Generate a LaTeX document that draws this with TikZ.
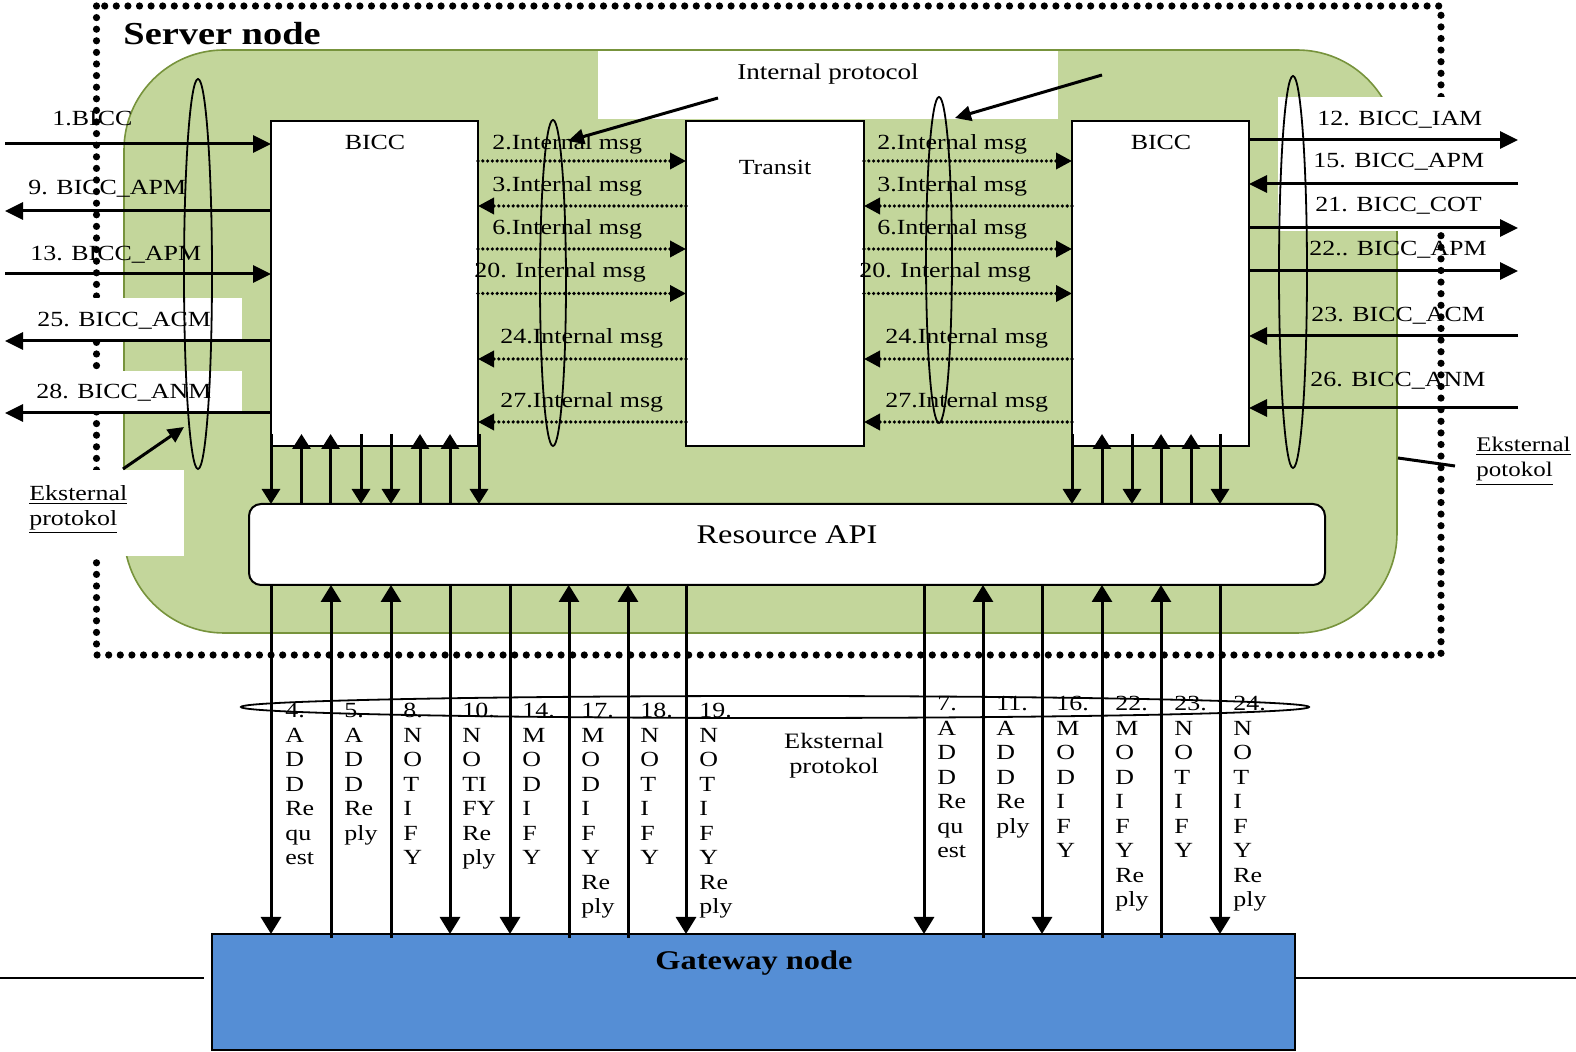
\documentclass[tikz,border=0pt]{standalone}
\usepackage{fontspec}
\setmainfont{Liberation Serif}[FakeStretch=1.2]
\usetikzlibrary{arrows.meta,positioning,calc}
\definecolor{srvgreen}{HTML}{C3D69B}
\definecolor{srvedge}{HTML}{77933C}
\definecolor{gwblue}{HTML}{558ED5}

\begin{document}
\begin{tikzpicture}[x=0.5pt,y=-0.5pt,>={Triangle[length=9pt,width=8.5pt]},
  lbl/.style={font=\fontsize{10.8}{12.25}\selectfont,inner sep=0pt,anchor=base west},
  blk/.style={draw,line width=1pt,fill=white,inner sep=0pt,outer sep=0pt,anchor=north west},
  sig/.style={line width=1.5pt},
  msg/.style={line width=1.8pt,dash pattern=on 0pt off 2.4pt,line cap=round,-{Triangle[length=8pt,width=8pt]}},
  ring/.style={line width=0.9pt}]
\useasboundingbox (0,0) rectangle (1576,1052);

% server node frame and green area
\draw[line width=3.6pt,dash pattern=on 0pt off 5.8pt,line cap=round] (96.5,6) rectangle (1441,655);
\filldraw[fill=srvgreen,draw=srvedge,line width=0.8pt,rounded corners=50pt] (124,50) rectangle (1397,633);
\fill[white] (598,51.5) rectangle (1058,119);
\fill[white] (1278,97) rectangle (1576,231);
\fill[white] (0,298) rectangle (242,340);
\fill[white] (0,371) rectangle (242,412);
\fill[white] (0,470) rectangle (184,556);
\node[font=\fontsize{16}{18}\selectfont\bfseries,inner sep=0pt,anchor=base west] (srv) at (123,45) {Server node};

% blocks
\node[blk,minimum width=103.5pt,minimum height=162.5pt] (bicc1) at (271,121) {};
\node[blk,minimum width=89pt,minimum height=162.5pt] (transit) at (686,121) {};
\node[blk,minimum width=88.5pt,minimum height=162.5pt] (bicc2) at (1072,121) {};
\node[blk,rounded corners=6pt,minimum width=538pt,minimum height=40.5pt] (api) at (249,504) {};
\node[blk,fill=gwblue,minimum width=541.5pt,minimum height=58pt] (gw) at (212,934) {};
\node[lbl,anchor=base] (bicc1t) at (375,150) {BICC};
\node[lbl,anchor=base] (transitt) at (775,175) {Transit};
\node[lbl,anchor=base] (bicc2t) at (1161,150) {BICC};
\node[lbl,anchor=base,font=\fontsize{13.5}{15}\selectfont] (apit) at (787,544) {Resource API};
\node[lbl,anchor=base,font=\fontsize{13.5}{15}\selectfont\bfseries] (gwt) at (754,970) {Gateway node};

\coordinate (lx) at (5,0);
\coordinate (rx) at (1518,0);
\coordinate (gl) at (0,978);
\coordinate (gr) at (1576,978);
\draw[line width=0.8pt] (gl) -- ([xshift=-4pt]gw.west |- gl);
\draw[line width=0.8pt] (gw.east |- gr) -- (gr);

% external BICC signals
\foreach \y in {144,274} \draw[sig,->] (lx |- 0,\y) -- (bicc1.west |- 0,\y);
\foreach \y in {211,341,413} \draw[sig,->] (bicc1.west |- 0,\y) -- (lx |- 0,\y);
\foreach \y in {140,228,271} \draw[sig,->] (bicc2.east |- 0,\y) -- (rx |- 0,\y);
\foreach \y in {184,336,408} \draw[sig,->] (rx |- 0,\y) -- (bicc2.east |- 0,\y);

% internal messages
\foreach \y in {161,249,293.5} {
  \draw[msg] (bicc1.east |- 0,\y) -- (transit.west |- 0,\y);
  \draw[msg] (transit.east |- 0,\y) -- (bicc2.west |- 0,\y);
}
\foreach \y in {206,359,422} {
  \draw[msg] (transit.west |- 0,\y) -- (bicc1.east |- 0,\y);
  \draw[msg] (bicc2.west |- 0,\y) -- (transit.east |- 0,\y);
}

% blocks to resource API
\foreach \x in {271,361,391,479,1072,1132,1220}
  \draw[sig,-{Triangle[length=7.5pt,width=9pt]}] (\x,0 |- bicc1.south) ++(0,-12) -- (\x,0 |- api.north);
\foreach \x in {301.5,330.6,420,450,1102,1161,1191}
  \draw[sig,{Triangle[length=7.5pt,width=9pt]}-] (\x,0 |- bicc1.south) ++(0,-12) -- (\x,0 |- api.north);

% resource API to gateway
\foreach \x in {271,450,510,686,924,1042,1220}
  \draw[sig,-{Triangle[length=8.5pt,width=10pt]}] (\x,0 |- api.south) -- (\x,0 |- gw.north);
\foreach \x in {331,391,569,628,983,1102,1161}
  \draw[sig,-{Triangle[length=8.5pt,width=10pt]}] (\x,0 |- gw.north) ++(0,4) -- (\x,0 |- api.south);

% protocol rings
\draw[ring] (198,274) ellipse [x radius=7pt,y radius=97.5pt];
\draw[ring] (553,283) ellipse [x radius=6.5pt,y radius=81.5pt];
\draw[ring] (939,260) ellipse [x radius=6.5pt,y radius=81.5pt];
\draw[ring] (1293,272) ellipse [x radius=7pt,y radius=98pt];
\draw[ring] (775,707) ellipse [x radius=267pt,y radius=5.5pt];

% labels on external signals
\node[lbl] (s1) at (52,126) {1.BICC};
\node[lbl] (s9) at (28,195) {9. BICC\_APM};
\node[lbl] (s13) at (30,261) {13. BICC\_APM};
\node[lbl] (s25) at (37,327) {25. BICC\_ACM};
\node[lbl] (s28) at (36,399) {28. BICC\_ANM};
\node[lbl] (s12) at (1317,126) {12. BICC\_IAM};
\node[lbl] (s15) at (1313,168) {15. BICC\_APM};
\node[lbl] (s21) at (1315,212) {21. BICC\_COT};
\node[lbl] (s22) at (1309,256) {22.. BICC\_APM};
\node[lbl] (s23) at (1311,322) {23. BICC\_ACM};
\node[lbl] (s26) at (1310,387) {26. BICC\_ANM};

% labels on internal messages
\foreach \n/\xa/\xb/\y/\t in {a/492/877/150/2.Internal msg,b/492/877/192/3.Internal msg,c/492/877/235/6.Internal msg,d/474/859/278/20. Internal msg,e/500/885/344/24.Internal msg,f/500/885/408/27.Internal msg} {
  \node[lbl] (ml\n) at (\xa,\y) {\t};
  \node[lbl] (mr\n) at (\xb,\y) {\t};
}

% vertical labels on gateway signals
\foreach \x/\t in {285/{4.\\A\\D\\D\\Re\\qu\\est},344/{5.\\A\\D\\D\\Re\\ply},403/{8.\\N\\O\\T\\I\\F\\Y},462/{10.\\N\\O\\TI\\FY\\Re\\ply},522/{14.\\M\\O\\D\\I\\F\\Y},581/{17.\\M\\O\\D\\I\\F\\Y\\Re\\ply},640/{18.\\N\\O\\T\\I\\F\\Y},699/{19.\\N\\O\\T\\I\\F\\Y\\Re\\ply}}
  \node[lbl,anchor=north west,align=left] (v\x) at (\x,703) {\t};
\foreach \x/\t in {937/{7.\\A\\D\\D\\Re\\qu\\est},996/{11.\\A\\D\\D\\Re\\ply},1056/{16.\\M\\O\\D\\I\\F\\Y},1115/{22.\\M\\O\\D\\I\\F\\Y\\Re\\ply},1174/{23.\\N\\O\\T\\I\\F\\Y},1233/{24.\\N\\O\\T\\I\\F\\Y\\Re\\ply}}
  \node[lbl,anchor=north west,align=left] (v\x) at (\x,696) {\t};

% protocol notes
\node[lbl,anchor=base,font=\fontsize{11.3}{13}\selectfont] (iproto) at (828,80) {Internal protocol};
\coordinate (ipa) at (718,98);
\coordinate (ipb) at (568,141);
\coordinate (ipc) at (1102,75);
\coordinate (ipd) at (955,118);
\draw[sig,-{Triangle[length=8pt,width=7.5pt]}] (ipa) -- (ipb);
\draw[sig,-{Triangle[length=8pt,width=7.5pt]}] (ipc) -- (ipd);
\node[lbl,anchor=north,align=center,font=\fontsize{11}{12.5}\selectfont] (eproto) at (834,733) {Eksternal\\protokol};
\node[lbl,anchor=north west,align=left,font=\fontsize{10.8}{12.5}\selectfont] (eleft) at (29,485) {\underline{Eksternal}\\\underline{protokol}};
\node[lbl,anchor=north west,align=left,font=\fontsize{10.4}{12.5}\selectfont] (eright) at (1476,437) {\underline{Eksternal}\\\underline{potokol}};
\coordinate (ela) at (123,469);
\coordinate (elb) at (184,427);
\draw[sig,-{Triangle[length=8pt,width=7.5pt]}] (ela) -- (elb);
\coordinate (era) at (1398,458);
\coordinate (erb) at (1455,466);
\draw[sig] (era) -- (erb);
\end{tikzpicture}
\end{document}
